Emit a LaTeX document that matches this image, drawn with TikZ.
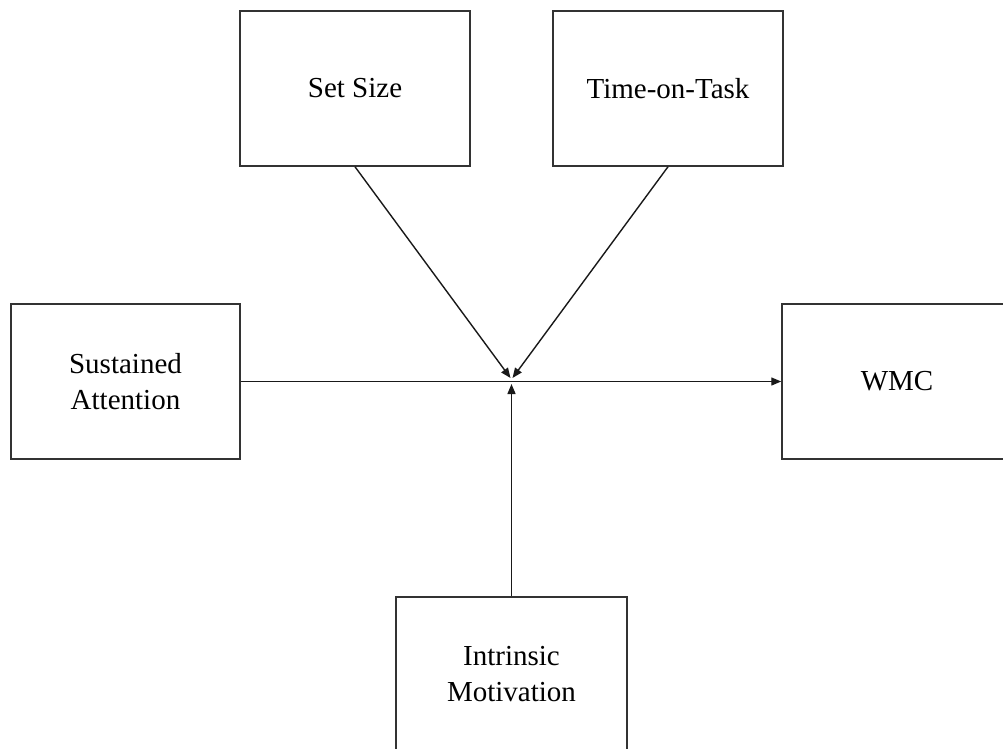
\documentclass[tikz,border=0pt]{standalone}
\usepackage{fontspec}
\setmainfont{Liberation Serif}
\usetikzlibrary{arrows.meta}
\begin{document}
\begin{tikzpicture}[x=1bp,y=-1bp,
  factor/.style={draw=black!80, line width=1.5bp, fill=white,
    minimum width=230bp, minimum height=155bp, inner sep=0pt,
    align=center, font=\fontsize{29bp}{36bp}\selectfont},
  link/.style={draw=black!90, line width=1.4bp,
    -{Triangle[length=10bp,width=8bp]}}]
  \clip (0,0) rectangle (1003,749);
  \fill[white] (0,0) rectangle (1003,749);

  % predictor, moderator and outcome boxes
  \node[factor] (setsize)   at (355,88.5)   {Set Size};
  \node[factor] (timetask)  at (668,88.5)   {Time-on-Task};
  \node[factor, minimum width=229bp] (sustained) at (125.5,381.5) {Sustained\\Attention};
  \node[factor] (wmc)       at (897,381.5)  {WMC};
  \node[factor, minimum width=231bp] (intrinsic) at (511.5,674.5) {Intrinsic\\Motivation};

  % meeting points of the moderator paths on the main path
  \coordinate (hubL) at (510.5,378);
  \coordinate (hubR) at (512.5,378);
  \coordinate (hubB) at (511.5,384);

  % main path and moderator paths
  \draw[link] (sustained.east) -- (wmc.west);
  \draw[link] (setsize.south) -- (hubL);
  \draw[link] (timetask.south) -- (hubR);
  \draw[link] (intrinsic.north) -- (hubB);
\end{tikzpicture}
\end{document}
